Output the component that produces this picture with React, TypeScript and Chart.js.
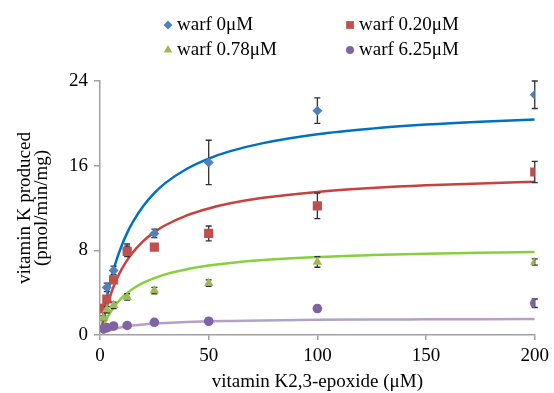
import React, { useEffect, useRef } from 'react';
import { Chart, registerables } from 'chart.js';

Chart.register(...registerables);

// ---- data ----
const SUBSTRATE_UM = [1.56, 3.125, 6.25, 12.5, 25, 50, 100, 200];
const WARF_0 = [2.6, 4.5, 6.1, 8.1, 9.6, 16.3, 21.2, 22.7];
const WARF_0_ERR = [0.3, 0.4, 0.4, 0.5, 0.4, 2.1, 1.2, 1.3];
const WARF_020 = [2.5, 3.4, 5.2, 7.9, 8.3, 9.6, 12.2, 15.4];
const WARF_020_ERR = [0.2, 0.3, 0.3, 0.5, 0.2, 0.7, 1.2, 1.0];
const WARF_078 = [1.6, 2.4, 2.8, 3.6, 4.2, 4.9, 6.9, 6.9];
const WARF_078_ERR = [0.2, 0.3, 0.3, 0.3, 0.3, 0.3, 0.5, 0.3];
const WARF_625 = [0.6, 0.7, 0.85, 0.9, 1.2, 1.3, 2.5, 3.0];
const WARF_625_ERR = [0.1, 0.1, 0.1, 0.1, 0.1, 0.1, 0.3, 0.4];

// fitted curves
const CURVE_X = [1, 2, 3, 4, 6, 8, 10, 12.5, 15, 20, 25, 30, 40, 50, 60, 75, 100, 125, 150, 175, 200];
const FIT_0 = [1.29, 2.44, 3.47, 4.4, 6.0, 7.33, 8.46, 9.65, 10.65, 12.22, 13.41, 14.35, 15.71, 16.67, 17.37, 18.13, 18.97, 19.5, 19.88, 20.16, 20.37];
const FIT_020 = [0.97, 1.83, 2.59, 3.27, 4.44, 5.41, 6.22, 7.07, 7.78, 8.89, 9.72, 10.37, 11.31, 11.96, 12.44, 12.96, 13.52, 13.88, 14.14, 14.32, 14.47];
const FIT_078 = [0.56, 1.05, 1.48, 1.87, 2.52, 3.05, 3.5, 3.96, 4.34, 4.94, 5.38, 5.73, 6.22, 6.56, 6.81, 7.08, 7.37, 7.55, 7.68, 7.78, 7.85];
const FIT_625 = [0.12, 0.23, 0.32, 0.4, 0.53, 0.64, 0.73, 0.82, 0.89, 1.0, 1.08, 1.14, 1.23, 1.29, 1.33, 1.38, 1.43, 1.46, 1.48, 1.5, 1.51];

const LEGEND_LABELS = ['warf 0μM', 'warf 0.20μM', 'warf 0.78μM', 'warf 6.25μM'];
const X_TITLE = 'vitamin K2,3-epoxide (μM)';
const Y_TITLE = ['vitamin K produced', '(pmol/min/mg)'];

const FONT = '"Liberation Serif", "Times New Roman", serif';
const MARKER_COLORS = ['#4F81BD', '#C0504D', '#9BBB59', '#8064A2'];
const LINE_COLORS = ['#0070C0', '#C8413C', '#86D03C', '#B3A2C7'];
const SHAPES = ['rectRot', 'rect', 'triangle', 'circle'];
const RADII = [5, 6.5, 5.5, 4.8];

function drawMarker(ctx: CanvasRenderingContext2D, shape: string, x: number, y: number, r: number, color: string) {
  ctx.save();
  ctx.fillStyle = color;
  ctx.beginPath();
  if (shape === 'rectRot') {
    ctx.moveTo(x, y - r);
    ctx.lineTo(x + r, y);
    ctx.lineTo(x, y + r);
    ctx.lineTo(x - r, y);
  } else if (shape === 'rect') {
    const s = r * Math.SQRT1_2;
    ctx.rect(x - s, y - s, 2 * s, 2 * s);
  } else if (shape === 'triangle') {
    ctx.moveTo(x, y - r);
    ctx.lineTo(x + r * 0.866, y + r * 0.5);
    ctx.lineTo(x - r * 0.866, y + r * 0.5);
  } else {
    ctx.arc(x, y, r, 0, Math.PI * 2);
  }
  ctx.closePath();
  ctx.fill();
  ctx.restore();
}

export default function App() {
  const ref = useRef<HTMLCanvasElement | null>(null);

  useEffect(() => {
    if (!ref.current) return;
    const series = [WARF_0, WARF_020, WARF_078, WARF_625];
    const errs = [WARF_0_ERR, WARF_020_ERR, WARF_078_ERR, WARF_625_ERR];
    const fits = [FIT_0, FIT_020, FIT_078, FIT_625];
    const pointOrder = [4, 3, 2, 1];

    const pointSets = series.map((vals, i) => ({
      type: 'scatter' as const,
      label: LEGEND_LABELS[i],
      data: SUBSTRATE_UM.map((x, j) => ({ x, y: vals[j] })),
      pointStyle: SHAPES[i],
      pointRadius: RADII[i],
      pointBackgroundColor: MARKER_COLORS[i],
      pointBorderWidth: 0,
      showLine: false,
      order: pointOrder[i],
      errIndex: i,
    }));
    const lineSets = fits.map((vals, i) => ({
      type: 'line' as const,
      label: 'fit ' + LEGEND_LABELS[i],
      data: CURVE_X.map((x, j) => ({ x, y: vals[j] })),
      borderColor: LINE_COLORS[i],
      borderWidth: 2.5,
      pointRadius: 0,
      cubicInterpolationMode: 'monotone' as const,
      fill: false,
      order: 10 + i,
    }));

    const errorBars = {
      id: 'errorBars',
      beforeDatasetDraw(chart: any, args: any) {
        const ds = chart.data.datasets[args.index];
        if (ds.errIndex === undefined) return;
        const err = errs[ds.errIndex];
        const vals = series[ds.errIndex];
        const xs = chart.scales.x;
        const ys = chart.scales.y;
        const ctx = chart.ctx;
        ctx.save();
        ctx.strokeStyle = '#303030';
        ctx.lineWidth = 1.3;
        SUBSTRATE_UM.forEach((x, j) => {
          const px = xs.getPixelForValue(x);
          const top = ys.getPixelForValue(vals[j] + err[j]);
          const bot = ys.getPixelForValue(vals[j] - err[j]);
          ctx.beginPath();
          ctx.moveTo(px, top);
          ctx.lineTo(px, bot);
          ctx.moveTo(px - 3, top);
          ctx.lineTo(px + 3, top);
          ctx.moveTo(px - 3, bot);
          ctx.lineTo(px + 3, bot);
          ctx.stroke();
        });
        ctx.restore();
      },
    };

    const legendPlugin = {
      id: 'gridLegend',
      afterDraw(chart: any) {
        const ctx = chart.ctx;
        const cols = [168, 350];
        const rows = [25, 50];
        ctx.save();
        ctx.font = `19px ${FONT}`;
        ctx.fillStyle = '#000';
        ctx.textBaseline = 'middle';
        ctx.textAlign = 'left';
        LEGEND_LABELS.forEach((lab, i) => {
          const cx = cols[i % 2];
          const cy = rows[Math.floor(i / 2)];
          drawMarker(ctx, SHAPES[i], cx, cy, [4.5, 5.5, 5, 4][i], MARKER_COLORS[i]);
          ctx.fillText(lab, cx + 9, cy);
        });
        ctx.restore();
      },
    };

    const chart = new Chart(ref.current, {
      type: 'scatter',
      data: { datasets: [...pointSets, ...lineSets] as any },
      options: {
        animation: false,
        responsive: false,
        devicePixelRatio: 1,
        layout: { padding: { left: 0, right: 17, top: 81, bottom: 0 } },
        plugins: {
          legend: { display: false },
          tooltip: { enabled: false },
        },
        scales: {
          x: {
            type: 'linear',
            min: 0,
            max: 200,
            afterFit(scale: any) { scale.height = 58; },
            ticks: { stepSize: 50, color: '#000', font: { family: FONT, size: 19 }, padding: 5 },
            grid: { drawOnChartArea: false, drawTicks: true, tickLength: 5, color: '#A0A0A0', lineWidth: 1.5 },
            border: { color: '#A0A0A0', width: 1.5 },
            title: { display: true, text: X_TITLE, color: '#000', font: { family: FONT, size: 19, lineHeight: 1.0 }, padding: { top: 0, bottom: 1 } },
          },
          y: {
            type: 'linear',
            min: 0,
            max: 24,
            afterFit(scale: any) { scale.width = 100; },
            ticks: { stepSize: 8, color: '#000', font: { family: FONT, size: 19 }, padding: 6 },
            grid: { drawOnChartArea: false, drawTicks: true, tickLength: 6, color: '#A0A0A0', lineWidth: 1.5 },
            border: { color: '#A0A0A0', width: 1.5 },
            title: { display: true, text: Y_TITLE, color: '#000', font: { family: FONT, size: 19, lineHeight: 0.92 }, padding: { top: 16, bottom: 0 } },
          },
        },
      } as any,
      plugins: [errorBars, legendPlugin],
    });
    return () => chart.destroy();
  }, []);

  return (
    <div style={{ position: 'absolute', left: 0, top: 0, width: 554, height: 393, background: '#fff' }}>
      <canvas ref={ref} width={554} height={393} style={{ width: 554, height: 393, display: 'block' }} />
    </div>
  );
}
